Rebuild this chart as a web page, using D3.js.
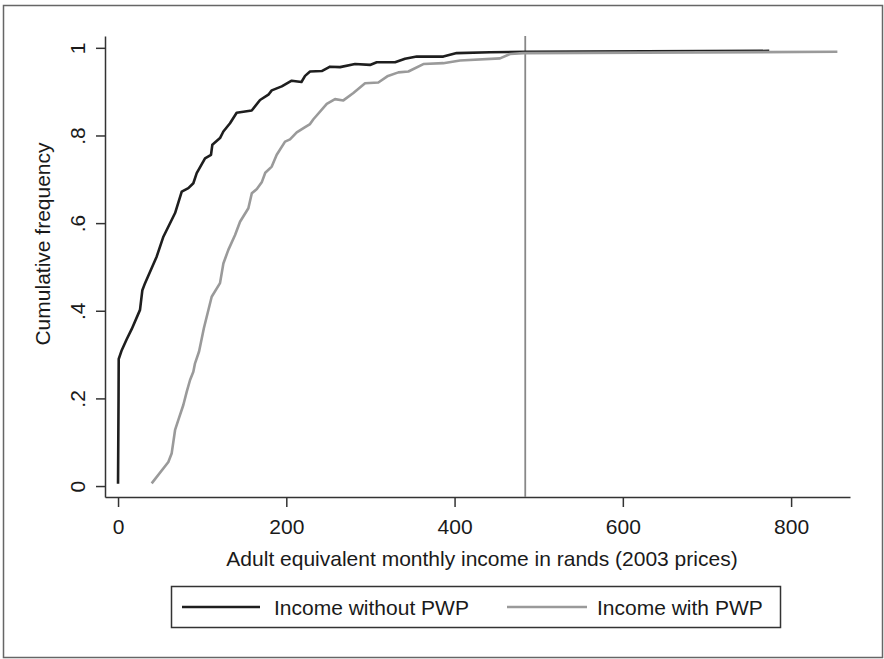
<!DOCTYPE html>
<html>
<head>
<meta charset="utf-8">
<script src="https://cdn.jsdelivr.net/npm/d3@7"></script>
<style>
  html, body { margin: 0; padding: 0; background: #fff; }
  svg { display: block; }
  text { font-family: "Liberation Sans", Arial, Helvetica, sans-serif; fill: #1a1a1a; }
</style>
</head>
<body>
<svg id="chart" width="884" height="659"></svg>
<script>
// Cumulative frequency of adult-equivalent monthly income (rands, 2003 prices)
const seriesNames = ["Income without PWP", "Income with PWP"];

// [income, cumulative share] for income without public works programme wages
const incomeWithout = [
  [0, 0.005], [0.6, 0.2], [0.8, 0.29], [4.4, 0.31], [10.3, 0.335], [16.2, 0.358],
  [26.1, 0.402], [28.9, 0.447], [32.1, 0.463], [46, 0.524], [53.9, 0.569],
  [67.8, 0.623], [75.7, 0.672], [83.6, 0.68], [89.5, 0.691], [93.5, 0.714],
  [103.4, 0.748], [110.5, 0.756], [112.1, 0.779], [121.2, 0.794], [125.2, 0.809],
  [133.1, 0.828], [141, 0.852], [158.9, 0.857], [168.8, 0.881], [178.7, 0.893],
  [182.7, 0.903], [194.6, 0.912], [206.4, 0.925], [218, 0.922], [222.3, 0.936],
  [228.2, 0.946], [242.1, 0.947], [252, 0.957], [263.9, 0.956], [281.7, 0.963],
  [299.5, 0.961], [307.5, 0.967], [329.3, 0.967], [341.1, 0.975], [355, 0.98],
  [386.6, 0.98], [402.5, 0.988], [442.2, 0.99], [485.8, 0.991], [774, 0.993]
];

// [income, cumulative share] for income including public works programme wages
const incomeWith = [
  [40, 0.006], [59.8, 0.055], [63.8, 0.075], [67.8, 0.128], [71.7, 0.151],
  [77.6, 0.185], [81.6, 0.215], [85.6, 0.242], [89.5, 0.261], [91.5, 0.28],
  [96.3, 0.307], [102, 0.36], [111.3, 0.432], [121.2, 0.463], [125.2, 0.508],
  [131.1, 0.539], [139.1, 0.573], [145, 0.603], [154.9, 0.634], [159, 0.668],
  [165, 0.678], [171, 0.694], [175, 0.715], [182.7, 0.729], [188.6, 0.756],
  [198.5, 0.786], [204.4, 0.791], [212.4, 0.807], [222.3, 0.819], [228.2, 0.826],
  [232.2, 0.837], [248.1, 0.872], [257.9, 0.883], [267.8, 0.88], [279.7, 0.897],
  [293.6, 0.919], [309.4, 0.921], [320, 0.935], [333.2, 0.944], [345.1, 0.946],
  [362.9, 0.963], [386.6, 0.965], [406.5, 0.971], [454, 0.976], [466, 0.986],
  [481.7, 0.988], [855, 0.991]
];

// Reference income marked with a vertical line
const referenceIncome = [484];

const xTicks = [0, 200, 400, 600, 800];
const yTicks = [0, 0.2, 0.4, 0.6, 0.8, 1];

const svg = d3.select("#chart");

// outer frame
svg.append("rect")
  .attr("x", 3.5).attr("y", 5.5)
  .attr("width", 879).attr("height", 652)
  .attr("fill", "none").attr("stroke", "#666").attr("stroke-width", 1.5);

const plot = { left: 105, right: 850, top: 36, bottom: 497 };

const x = d3.scaleLinear().domain([-15.5, 870]).range([plot.left, plot.right]);
const y = d3.scaleLinear().domain([-0.025, 1.027]).range([plot.bottom, plot.top]);

// x axis
const xAxis = svg.append("g")
  .attr("transform", `translate(0,${plot.bottom})`)
  .call(d3.axisBottom(x).tickValues(xTicks).tickSize(10).tickSizeOuter(0));
xAxis.selectAll("text")
  .attr("y", 37).attr("dy", 0)
  .style("font-size", "21px");

// y axis with rotated tick labels
const yFmt = d => (d === 0 || d === 1) ? String(d) : d3.format(".1f")(d).replace(/^0/, "");
const yAxis = svg.append("g")
  .attr("transform", `translate(${plot.left},0)`)
  .call(d3.axisLeft(y).tickValues(yTicks).tickFormat(yFmt).tickSize(9).tickSizeOuter(0));
yAxis.selectAll("text")
  .attr("transform", "rotate(-90)")
  .attr("x", 0).attr("y", -20).attr("dy", 0)
  .attr("text-anchor", "middle")
  .style("font-size", "21px");

[xAxis, yAxis].forEach(a => {
  a.select(".domain").attr("stroke", "#333").attr("stroke-width", 1.5);
  a.selectAll(".tick line").attr("stroke", "#333").attr("stroke-width", 1.5);
  a.attr("font-family", null).attr("font-size", null);
});

// vertical reference line
svg.selectAll("line.ref")
  .data(referenceIncome)
  .join("line")
  .attr("class", "ref")
  .attr("x1", d => x(d)).attr("x2", d => x(d))
  .attr("y1", plot.top).attr("y2", plot.bottom)
  .attr("stroke", "#888").attr("stroke-width", 1.8);

// cumulative distribution curves
const line = d3.line().x(d => x(d[0])).y(d => y(d[1]));
const colors = ["#1e1e1e", "#9a9a9a"];
const series = [incomeWithout, incomeWith];

svg.selectAll("path.cdf")
  .data(series)
  .join("path")
  .attr("class", "cdf")
  .attr("d", line)
  .attr("fill", "none")
  .attr("stroke", (d, i) => colors[i])
  .attr("stroke-width", 2.6)
  .attr("stroke-linejoin", "round");

// axis titles
svg.append("text")
  .attr("x", 482).attr("y", 566)
  .attr("text-anchor", "middle")
  .style("font-size", "21px")
  .text("Adult equivalent monthly income in rands (2003 prices)");

svg.append("text")
  .attr("transform", "translate(50,244) rotate(-90)")
  .attr("text-anchor", "middle")
  .style("font-size", "21px")
  .text("Cumulative frequency");

// legend
const legend = svg.append("g");
legend.append("rect")
  .attr("x", 171.5).attr("y", 586.5)
  .attr("width", 609).attr("height", 41)
  .attr("fill", "#fff").attr("stroke", "#333").attr("stroke-width", 1.5);

const legendItems = [
  { x1: 182, x2: 260, tx: 274 },
  { x1: 507, x2: 587, tx: 597 }
];
legendItems.forEach((it, i) => {
  legend.append("line")
    .attr("x1", it.x1).attr("x2", it.x2)
    .attr("y1", 607).attr("y2", 607)
    .attr("stroke", colors[i]).attr("stroke-width", 2.6);
  legend.append("text")
    .attr("x", it.tx).attr("y", 615)
    .style("font-size", "21px")
    .text(seriesNames[i]);
});
</script>
</body>
</html>
